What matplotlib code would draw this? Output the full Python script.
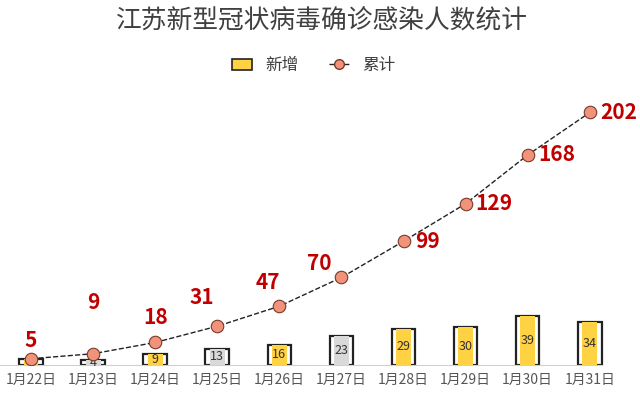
import matplotlib
matplotlib.use("Agg")
import matplotlib.pyplot as plt
from matplotlib.patches import Patch
from matplotlib.lines import Line2D

plt.rcParams['font.family'] = ['Noto Sans CJK SC', 'DejaVu Sans']

# Data
dates = ["1月22日", "1月23日", "1月24日", "1月25日", "1月26日",
         "1月27日", "1月28日", "1月29日", "1月30日", "1月31日"]
new_cases = [5, 4, 9, 13, 16, 23, 29, 30, 39, 34]
total_cases = [5, 9, 18, 31, 47, 70, 99, 129, 168, 202]

YELLOW = "#FFD243"
GRAY = "#D9D9D9"
RED = "#C00000"
bar_colors = [YELLOW, GRAY, YELLOW, GRAY, YELLOW, GRAY, YELLOW, YELLOW, YELLOW, YELLOW]
# label offsets (points) for the cumulative numbers
label_offsets = [(0, 13), (0, 37), (0, 18), (-11, 21), (-8, 17),
                 (-16, 10), (17, 0), (20, 0), (21, 0), (21, 0)]

fig = plt.figure(figsize=(6.4, 3.98), dpi=100)
ax = fig.add_axes([0.0, 0.083, 0.97, 0.716])

x = list(range(len(dates)))

# outer bracket box + inner fill
ax.bar(x, new_cases, width=0.38, color="white", edgecolor="#222222", linewidth=1.6, zorder=2)
ax.bar(x, new_cases, width=0.24, color=bar_colors, linewidth=0, zorder=3)
for xi, v in zip(x, new_cases):
    ax.text(xi, v / 2, str(v), ha="center", va="center", fontsize=9,
            color="#333333", zorder=4)

ax.plot(x, total_cases, linestyle="--", color="#222222", linewidth=1.0,
        marker="o", markersize=9, markerfacecolor="#F0937A",
        markeredgecolor="#7a3a2a", markeredgewidth=0.8, zorder=5)
for xi, v, (dx, dy) in zip(x, total_cases, label_offsets):
    ax.annotate(str(v), (xi, v), xytext=(dx, dy), textcoords="offset points",
                ha="center", va="center", fontsize=15, fontweight="bold",
                color=RED, zorder=6)

ax.set_xlim(-0.5, 9.5)
ax.set_ylim(0, 228)
ax.set_xticks(x)
ax.set_xticklabels(dates, fontsize=10, color="#555555", style="italic")
ax.tick_params(axis="x", length=0, pad=6)
ax.set_yticks([])
for side in ["top", "right", "left"]:
    ax.spines[side].set_visible(False)
ax.spines["bottom"].set_color("#D0D0D0")
ax.spines["bottom"].set_bounds(-0.5, 9.2)

fig.text(0.503, 0.945, "江苏新型冠状病毒确诊感染人数统计", ha="center", va="center",
         fontsize=18.5, color="#404040", fontweight="light")

handles = [
    Patch(facecolor=YELLOW, edgecolor="#222222", linewidth=1.2),
    Line2D([0], [0], linestyle="--", color="#222222", linewidth=1.0, marker="o",
           markersize=7, markerfacecolor="#F0937A", markeredgecolor="#7a3a2a"),
]
fig.legend(handles, ["新增", "累计"], loc="center", bbox_to_anchor=(0.49, 0.835),
           ncol=2, frameon=False, fontsize=12, handlelength=1.2,
           columnspacing=1.8, labelcolor="#404040")

fig.savefig("out.png", dpi=100, facecolor="white")
